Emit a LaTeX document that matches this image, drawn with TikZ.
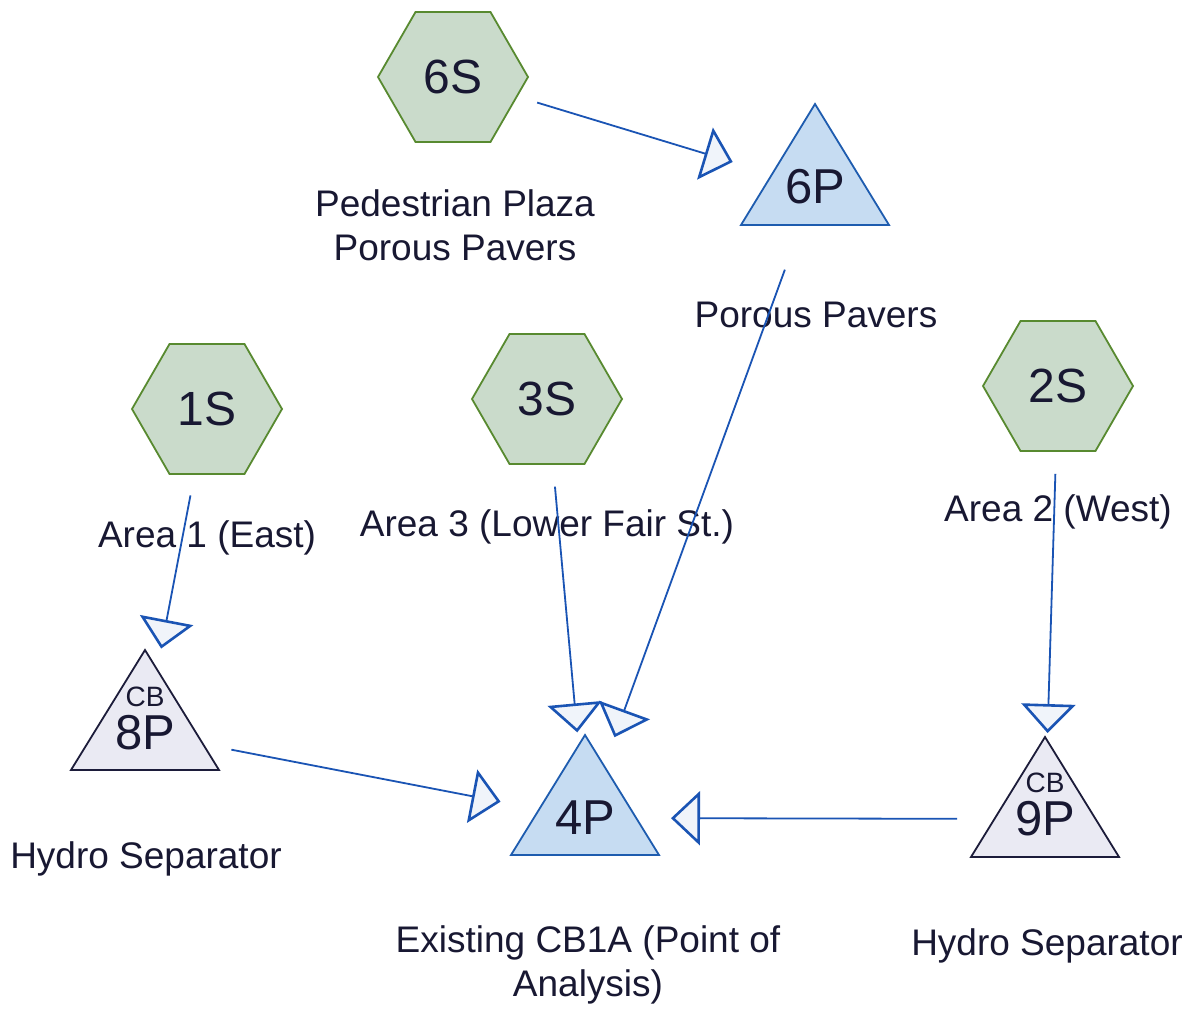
\documentclass[tikz,border=0pt]{standalone}
\usepackage{fontspec}
\setmainfont{Liberation Sans}
\usetikzlibrary{shapes.geometric,arrows.meta}
\definecolor{hexfill}{RGB}{202,219,203}
\definecolor{hexline}{RGB}{88,138,48}
\definecolor{bluefill}{RGB}{198,220,242}
\definecolor{blueline}{RGB}{30,92,175}
\definecolor{cbfill}{RGB}{234,234,243}
\definecolor{cbline}{RGB}{28,28,58}
\definecolor{arrowcol}{RGB}{26,84,180}
\definecolor{headfill}{RGB}{240,244,250}
\definecolor{txt}{RGB}{24,24,50}
\begin{document}
\begin{tikzpicture}[x=1pt,y=-1pt,
  hexnode/.style={regular polygon, regular polygon sides=6, minimum size=150pt, inner sep=0pt,
    fill=hexfill, draw=hexline, line width=1.8pt, text=txt, font=\fontsize{48}{48}\selectfont},
  tritext/.style={inner sep=0pt, text=txt, font=\fontsize{49}{49}\selectfont},
  cbtext/.style={inner sep=0pt, text=txt, font=\fontsize{28}{28}\selectfont},
  bluetri/.style={fill=bluefill, draw=blueline, line width=1.8pt, line join=miter},
  cbtri/.style={fill=cbfill, draw=cbline, line width=1.8pt, line join=miter},
  lbl/.style={inner sep=0pt, align=center, text=txt, font=\fontsize{37}{44}\selectfont},
  flow/.style={draw=arrowcol, line width=1.8pt, shorten <=88pt, shorten >=86pt,
    -{Triangle[open, length=29pt, width=54pt, fill=headfill, line width=2.6pt]}}
]
\useasboundingbox[fill=white] (0,0) rectangle (1192,1011);

% hexagon subcatchments
\node[hexnode] (s6) at (453,77) {6S};
\node[hexnode] (s1) at (207,409) {1S};
\node[hexnode] (s3) at (547,399) {3S};
\node[hexnode] (s2) at (1058,386) {2S};

% triangle ponds
\path[bluetri] (815,104) -- (889,225) -- (741,225) -- cycle;
\node[tritext] (p6) at (815,187) {6P};
\path[bluetri] (585,735) -- (659,855) -- (511,855) -- cycle;
\node[tritext] (p4) at (585,818) {4P};
\path[cbtri] (145,650) -- (219,770) -- (71,770) -- cycle;
\node[tritext] (p8) at (145,733) {8P};
\node[cbtext] (cb8) at (145,697) {CB};
\path[cbtri] (1045,737) -- (1119,857) -- (971,857) -- cycle;
\node[tritext] (p9) at (1045,819) {9P};
\node[cbtext] (cb9) at (1045,783) {CB};

% labels
\node[lbl] (l6s) at (455,225) {Pedestrian Plaza\\Porous Pavers};
\node[lbl] (l6p) at (816,315) {Porous Pavers};
\node[lbl] (l1s) at (207,538) {Area 1 (East)};
\node[lbl] (l3s) at (547,527) {Area 3 (Lower Fair St.)};
\node[lbl] (l2s) at (1058,512) {Area 2 (West)};
\node[lbl] (l8p) at (146,859) {Hydro Separator};
\node[lbl] (l4p) at (588,965) {Existing CB1A (Point of\\Analysis)};
\node[lbl] (l9p) at (1047,946) {Hydro Separator};

% connectors
\draw[flow] (s6.center) -- (p6.center);
\draw[flow] (p6.center) -- (p4.center);
\draw[flow] (s1.center) -- (p8.center);
\draw[flow] (s3.center) -- (p4.center);
\draw[flow] (p8.center) -- (p4.center);
\draw[flow] (s2.center) -- (p9.center);
\draw[flow] (p9.center) -- (p4.center);
\end{tikzpicture}
\end{document}
